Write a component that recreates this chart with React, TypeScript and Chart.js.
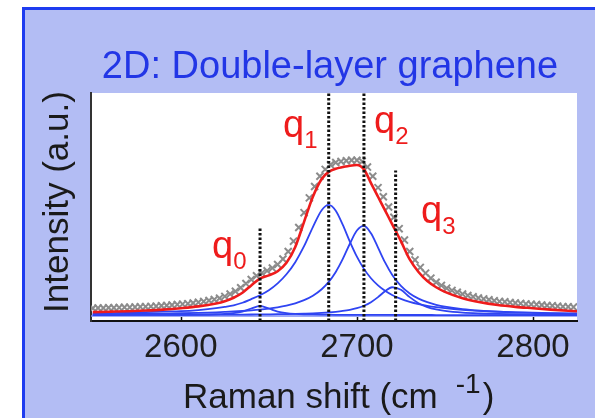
import React, { useEffect, useRef } from "react";
import { Chart, registerables } from "chart.js";

Chart.register(...registerables);

const FONT = "'Liberation Sans', Arial, Helvetica, sans-serif";

// ---- data ----
const chartTitle = "2D: Double-layer graphene";
const yAxisTitle = "Intensity (a.u.)";
const xAxisTitle = "Raman shift (cm";
const xAxisTitleSup = "-1";
const xTicks = [2600, 2700, 2800];
const xRange = [2549, 2825];

const ramanShift = [
  2550, 2560, 2570, 2580, 2590, 2600, 2610, 2620,
  2625, 2630, 2635, 2640, 2645, 2650, 2655, 2660, 2665, 2670, 2675, 2680,
  2684, 2688, 2692, 2696, 2700, 2704, 2708, 2712, 2716, 2720,
  2725, 2730, 2735, 2740, 2745, 2750,
  2760, 2770, 2780, 2790, 2800, 2810,
  2825,
];

const q1Band = [
  3.37, 3.49, 3.65, 3.86, 4.13, 4.3, 4.8, 5.6,
  6.2, 6.9, 8.0, 9.6, 11.3, 13.5, 16.5, 20.5, 25.8, 32.8, 41.2, 48.6,
  50.9, 48.36, 42.14, 34.84, 28.21, 22.86, 18.74, 15.61, 13.23, 11.41,
  9.69, 8.41, 7.43, 6.68, 6.08, 5.61,
  4.9, 4.42, 4.07, 3.81, 3.62, 3.46,
  3.29,
];

const q2Band = [
  2.97, 3.02, 3.09, 3.17, 3.27, 3.4, 3.58, 3.82,
  3.98, 4.16, 4.39, 4.67, 5.01, 5.45, 6.01, 6.76, 7.75, 9.13, 11.08, 13.92,
  17.14, 21.51, 27.22, 33.88, 39.68, 41.69, 38.47, 32.2, 25.68, 20.29,
  15.4, 12.09, 9.83, 8.25, 7.12, 6.29,
  5.17, 4.49, 4.05, 3.74, 3.52, 3.36,
  3.19,
];

const q3Band = [
  2.66, 2.67, 2.68, 2.69, 2.7, 2.72, 2.74, 2.77,
  2.79, 2.81, 2.83, 2.86, 2.9, 2.94, 2.99, 3.06, 3.14, 3.25, 3.38, 3.57,
  3.77, 4.04, 4.4, 4.9, 5.63, 6.69, 8.26, 10.47, 13.08, 14.81,
  13.67, 10.47, 7.81, 6.11, 5.06, 4.4,
  3.66, 3.3, 3.09, 2.96, 2.88, 2.82,
  2.76,
];

const q0Band = [
  2.63, 2.64, 2.65, 2.66, 2.68, 2.72, 2.8, 2.97,
  3.15, 3.49, 4.16, 5.48, 6.6, 5.48, 4.16, 3.49, 3.15, 2.97, 2.87, 2.8,
  2.76, 2.73, 2.71, 2.7, 2.68, 2.67, 2.66, 2.66, 2.65, 2.65,
  2.64, 2.64, 2.63, 2.63, 2.62, 2.62,
  2.62, 2.62, 2.61, 2.61, 2.61, 2.61,
  2.61,
];

const fitCurve = [
  3.9, 4.1, 4.3, 4.6, 5.0, 5.6, 6.4, 7.7,
  8.7, 10.2, 12.4, 15.6, 18.6, 20.0, 21.8, 25.5, 32.5, 43.5, 54.5, 62.3,
  65.4, 66.8, 67.5, 68.1, 68.4, 66.5, 60.5, 54.5, 48.5, 42.5,
  35.0, 27.0, 21.5, 17.5, 14.8, 12.8,
  10.0, 8.2, 7.0, 6.2, 5.6, 5.0,
  4.3,
];

const offsetShift = [2549, 2825];
const offsetLevel = [2.2, 2.2];

const measuredShift = [
  2550, 2553, 2556, 2559, 2562, 2565, 2568, 2571, 2574, 2577,
  2580, 2583, 2586, 2589, 2592, 2595, 2598, 2601, 2604, 2607,
  2610, 2613, 2616, 2619, 2622, 2625, 2628, 2631, 2634, 2637,
  2640, 2643, 2646, 2649, 2652, 2655, 2658, 2661, 2664, 2667,
  2670, 2673, 2676, 2679, 2682, 2685, 2688, 2691, 2694, 2697,
  2700, 2703, 2706, 2709, 2712, 2715, 2718, 2721, 2724, 2727,
  2730, 2733, 2736, 2739, 2742, 2745, 2748, 2751, 2754, 2757,
  2760, 2763, 2766, 2769, 2772, 2775, 2778, 2781, 2784, 2787,
  2790, 2793, 2796, 2799, 2802, 2805, 2808, 2811, 2814, 2817,
  2820, 2823,
];

const measuredIntensity = [
  5.6, 5.7, 5.7, 5.8, 5.8, 5.9, 6.0, 6.0, 6.1, 6.2,
  6.3, 6.4, 6.5, 6.7, 6.8, 7.0, 7.2, 7.4, 7.6, 7.9,
  8.2, 8.6, 9.0, 9.4, 10.0, 10.8, 11.8, 13.0, 14.6, 16.4,
  18.2, 19.8, 21.0, 22.0, 23.2, 24.8, 27.2, 30.5, 35.0, 41.0,
  47.5, 54.0, 59.0, 63.5, 66.5, 68.5, 69.5, 70.0, 70.3, 70.5,
  70.5, 70.0, 67.5, 63.5, 58.5, 54.5, 50.0, 45.5, 40.5, 35.5,
  30.5, 26.8, 23.5, 21.0, 18.8, 17.0, 15.6, 14.4, 13.4, 12.6,
  11.8, 11.2, 10.6, 10.1, 9.7, 9.3, 8.9, 8.6, 8.4, 8.1,
  7.9, 7.7, 7.5, 7.3, 7.2, 7.0, 6.8, 6.7, 6.5, 6.3,
  6.2, 6.1,
];

const peakNames = ["0", "1", "2", "3"];
const peakPositions = [2645, 2684, 2704, 2722];
const peakMarkerTops = [41, 100, 100, 66];

// ---- layout / style ----
const PANEL = "#b3bdf4";
const BORDER = "#1e3cf0";
const BLUE = "#2f44f2";
const RED = "#ee1c1c";
const labelAnchors = [
  [212, 258],
  [283, 137],
  [374, 133],
  [421, 223],
];

const toPoints = (xs: number[], ys: number[]) => xs.map((x, i) => ({ x, y: ys[i] }));

export default function App() {
  const ref = useRef<HTMLCanvasElement>(null);

  useEffect(() => {
    const canvas = ref.current;
    if (!canvas) return;

    const panelPlugin = {
      id: "panelDecor",
      beforeDraw(chart: any) {
        const { ctx, width, height, chartArea: a } = chart;
        ctx.save();
        ctx.fillStyle = "#ffffff";
        ctx.fillRect(0, 0, width, height);
        ctx.fillStyle = PANEL;
        ctx.fillRect(23, 8, width - 23, height - 8);
        ctx.fillStyle = BORDER;
        ctx.fillRect(22, 7, 3, height - 7);
        ctx.fillRect(22, 7, width - 22, 3);
        ctx.fillStyle = "#ffffff";
        ctx.fillRect(a.left, a.top, a.right - a.left, a.bottom - a.top);
        ctx.restore();
      },
      afterDraw(chart: any) {
        const { ctx, chartArea: a } = chart;
        const xs = chart.scales.x;
        ctx.save();
        // inner tick marks
        ctx.strokeStyle = "#111";
        ctx.lineWidth = 1.5;
        xTicks.forEach((v) => {
          const px = Math.round(xs.getPixelForValue(v)) + 0.5;
          ctx.beginPath();
          ctx.moveTo(px, a.bottom);
          ctx.lineTo(px, a.bottom - 4);
          ctx.stroke();
        });
        // title
        ctx.fillStyle = "#2236e6";
        ctx.font = `38px ${FONT}`;
        ctx.textAlign = "center";
        ctx.textBaseline = "alphabetic";
        ctx.fillText(chartTitle, 330, 78);
        // y title
        ctx.save();
        ctx.translate(68, 202);
        ctx.rotate(-Math.PI / 2);
        ctx.fillStyle = "#1a1a1a";
        ctx.font = `35px ${FONT}`;
        ctx.textAlign = "center";
        ctx.fillText(yAxisTitle, 0, 0);
        ctx.restore();
        // x title
        ctx.fillStyle = "#1a1a1a";
        ctx.textAlign = "left";
        ctx.font = `35px ${FONT}`;
        const x0 = 183;
        ctx.fillText(xAxisTitle, x0, 408);
        const w1 = ctx.measureText(xAxisTitle).width;
        ctx.font = `28px ${FONT}`;
        const supX = x0 + w1 + 18;
        ctx.fillText(xAxisTitleSup, supX, 393);
        const w2 = ctx.measureText(xAxisTitleSup).width;
        ctx.font = `35px ${FONT}`;
        ctx.fillText(")", supX + w2 + 2, 408);
        // peak labels
        ctx.fillStyle = RED;
        peakNames.forEach((n, i) => {
          const [lx, ly] = labelAnchors[i];
          ctx.font = `38px ${FONT}`;
          ctx.fillText("q", lx, ly);
          const qw = ctx.measureText("q").width;
          ctx.font = `24px ${FONT}`;
          ctx.fillText(n, lx + qw, ly + 11);
        });
        ctx.restore();
      },
    };

    const markerSets = peakPositions.map((p, i) => ({
      label: "q" + peakNames[i],
      data: [
        { x: p, y: 0 },
        { x: p, y: peakMarkerTops[i] },
      ],
      borderColor: "#111111",
      borderWidth: 3,
      borderDash: [2.5, 2],
      pointRadius: 0,
      tension: 0,
      order: 0,
    }));

    const bandStyle = {
      borderColor: BLUE,
      borderWidth: 1.8,
      pointRadius: 0,
      cubicInterpolationMode: "monotone" as const,
      order: 4,
    };

    const chart = new Chart(canvas, {
      type: "line",
      data: {
        datasets: [
          ...markerSets,
          {
            label: "fit",
            data: toPoints(ramanShift, fitCurve),
            borderColor: RED,
            borderWidth: 2.6,
            pointRadius: 0,
            cubicInterpolationMode: "monotone",
            order: 1,
          },
          {
            label: "measured",
            data: toPoints(measuredShift, measuredIntensity),
            showLine: false,
            pointStyle: "crossRot",
            pointRadius: 5,
            pointBorderColor: "#8c8c8c",
            pointBorderWidth: 2,
            borderColor: "#8c8c8c",
            order: 2,
          },
          { label: "q0 band", data: toPoints(ramanShift, q0Band), ...bandStyle },
          { label: "q1 band", data: toPoints(ramanShift, q1Band), ...bandStyle },
          { label: "q2 band", data: toPoints(ramanShift, q2Band), ...bandStyle },
          { label: "q3 band", data: toPoints(ramanShift, q3Band), ...bandStyle },
          {
            label: "offset",
            data: toPoints(offsetShift, offsetLevel),
            borderColor: "#7d8cf7",
            borderWidth: 1.6,
            pointRadius: 0,
            order: 5,
          },
        ] as any,
      },
      options: {
        animation: false,
        responsive: false,
        maintainAspectRatio: false,
        devicePixelRatio: 1,
        layout: { padding: { left: 91, top: 93, right: 18, bottom: 0 } },
        plugins: {
          legend: { display: false },
          tooltip: { enabled: false },
          title: { display: false },
        },
        scales: {
          x: {
            type: "linear",
            min: xRange[0],
            max: xRange[1],
            afterFit: (s: any) => {
              s.height = 97;
            },
            afterBuildTicks: (s: any) => {
              s.ticks = xTicks.map((v) => ({ value: v }));
            },
            ticks: {
              font: { family: FONT, size: 33 },
              color: "#1e1e1e",
              padding: 7,
              maxRotation: 0,
              autoSkip: false,
              callback: (v: any) => String(v),
            },
            grid: { display: false, drawTicks: false },
            border: { display: true, color: "#111", width: 2 },
          },
          y: {
            min: 0,
            max: 100,
            afterFit: (s: any) => {
              s.width = 0;
            },
            ticks: { display: false },
            grid: { display: false, drawTicks: false },
            border: { display: true, color: "#333", width: 2 },
          },
        },
      } as any,
      plugins: [panelPlugin],
    });

    return () => chart.destroy();
  }, []);

  return (
    <canvas
      ref={ref}
      width={595}
      height={418}
      style={{ position: "absolute", left: 0, top: 0, width: 595, height: 418 }}
    />
  );
}
